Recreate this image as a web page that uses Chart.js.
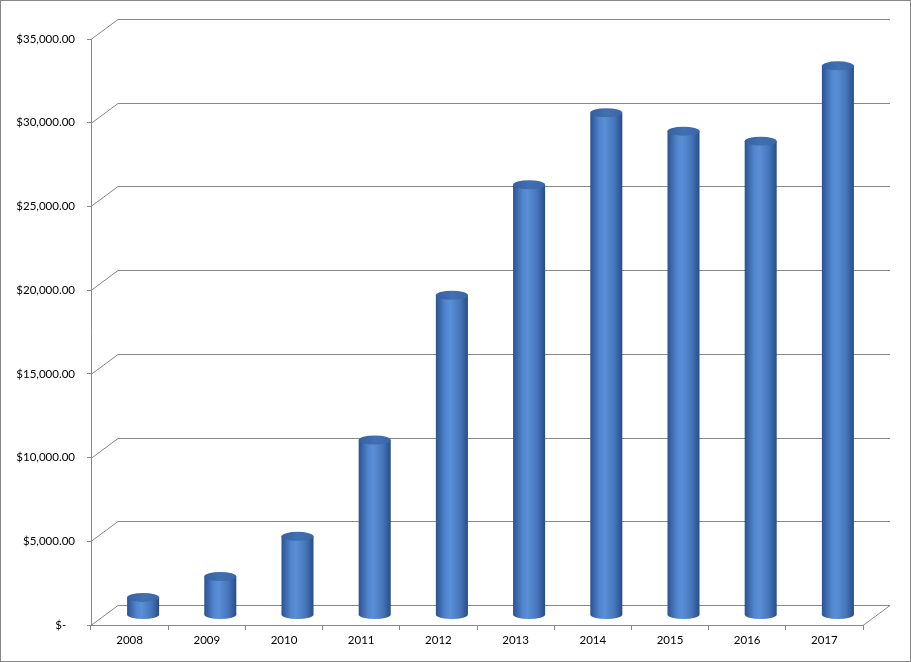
<!DOCTYPE html>
<html>
<head>
<meta charset="utf-8">
<script src="https://cdn.jsdelivr.net/npm/chart.js@4/dist/chart.umd.min.js"></script>
<style>
  html, body { margin: 0; padding: 0; background: #fff; }
  #wrap { width: 911px; height: 662px; }
</style>
</head>
<body>
<div id="wrap"><canvas id="salesChart"></canvas></div>
<script>
// Chart data
const years = ['2008', '2009', '2010', '2011', '2012', '2013', '2014', '2015', '2016', '2017'];
const totals = [1050, 2300, 4700, 10450, 19100, 25700, 30000, 28900, 28300, 32800];
const yTicks = [0, 5000, 10000, 15000, 20000, 25000, 30000, 35000];

// 3D depth of the plot box (back wall offset) and of the cylinders (mid depth)
const DEPTH_X = 27, DEPTH_Y = 20;
const MID_X = 13.5, MID_Y = 10;
const LINE = '#878787';

const fmtMoney = v => v === 0 ? '$-   ' : '$' + v.toLocaleString('en-US', { minimumFractionDigits: 2 });

// back wall + side wall gridlines, floor edge, outer frame
const wallPlugin = {
    id: 'wall',
    beforeDatasetsDraw(chart) {
        const { ctx, chartArea, scales } = chart;
        const y = scales.y;
        ctx.save();
        ctx.strokeStyle = LINE;
        ctx.lineWidth = 1;
        yTicks.forEach(v => {
            const py = Math.round(y.getPixelForValue(v)) + 0.5;
            ctx.beginPath();
            ctx.moveTo(chartArea.left, py);
            ctx.lineTo(chartArea.left + DEPTH_X, py - DEPTH_Y);
            ctx.lineTo(chartArea.right + DEPTH_X, py - DEPTH_Y);
            ctx.stroke();
        });
        // right floor edge
        const by = Math.round(y.getPixelForValue(0)) + 0.5;
        ctx.beginPath();
        ctx.moveTo(chartArea.right, by);
        ctx.lineTo(chartArea.right + DEPTH_X, by - DEPTH_Y);
        ctx.stroke();
        ctx.restore();
    },
    afterDatasetsDraw(chart) {
        const { ctx } = chart;
        const meta = chart.getDatasetMeta(0);
        ctx.save();
        meta.data.forEach(bar => {
            const cx = bar.x + MID_X;
            const r = bar.width / 2;
            const ry = 4.5;
            const top = bar.y - MID_Y;
            const bottom = bar.base - MID_Y;

            const grad = ctx.createLinearGradient(cx - r, 0, cx + r, 0);
            grad.addColorStop(0, '#2b5291');
            grad.addColorStop(0.3, '#5186cf');
            grad.addColorStop(0.45, '#5a8fd6');
            grad.addColorStop(0.75, '#4676bb');
            grad.addColorStop(1, '#284d88');

            ctx.beginPath();
            ctx.moveTo(cx - r, top);
            ctx.lineTo(cx - r, bottom);
            ctx.ellipse(cx, bottom, r, ry, 0, Math.PI, 0, true);
            ctx.lineTo(cx + r, top);
            ctx.closePath();
            ctx.fillStyle = grad;
            ctx.fill();

            const topGrad = ctx.createLinearGradient(cx - r, 0, cx + r, 0);
            topGrad.addColorStop(0, '#34609f');
            topGrad.addColorStop(0.5, '#4170b3');
            topGrad.addColorStop(1, '#3a66a6');
            ctx.beginPath();
            ctx.ellipse(cx, top, r, ry, 0, 0, Math.PI * 2);
            ctx.fillStyle = topGrad;
            ctx.fill();
        });
        ctx.restore();
    },
    afterDraw(chart) {
        const { ctx, width, height } = chart;
        ctx.save();
        ctx.strokeStyle = LINE;
        ctx.lineWidth = 1;
        ctx.strokeRect(0.5, 0.5, width - 1, height - 1);
        ctx.restore();
    }
};

const ctx = document.getElementById('salesChart').getContext('2d');
new Chart(ctx, {
    type: 'bar',
    data: {
        labels: years,
        datasets: [{
            label: 'Total',
            data: totals,
            backgroundColor: 'rgba(0,0,0,0)',
            borderWidth: 0,
            categoryPercentage: 1,
            barPercentage: 0.415
        }]
    },
    options: {
        responsive: true,
        maintainAspectRatio: false,
        animation: false,
        layout: { padding: { left: 0, right: 48, top: 39, bottom: 0 } },
        plugins: {
            legend: { display: false },
            tooltip: { enabled: false }
        },
        scales: {
            x: {
                offset: true,
                afterFit: s => { s.height = 37; },
                grid: { offset: true, drawOnChartArea: false, color: LINE, tickLength: 5 },
                border: { color: LINE },
                ticks: { color: '#000', padding: 3, font: { family: 'Lato', size: 11.5 } }
            },
            y: {
                min: 0,
                max: 35000,
                afterFit: s => { s.width = 91; },
                afterBuildTicks: s => { s.ticks = yTicks.map(v => ({ value: v })); },
                grid: { drawOnChartArea: false, color: LINE, tickLength: 4 },
                border: { color: LINE },
                ticks: {
                    color: '#000',
                    padding: 12,
                    font: { family: 'Lato', size: 11.5 },
                    callback: v => fmtMoney(v)
                }
            }
        }
    },
    plugins: [wallPlugin]
});
</script>
</body>
</html>
